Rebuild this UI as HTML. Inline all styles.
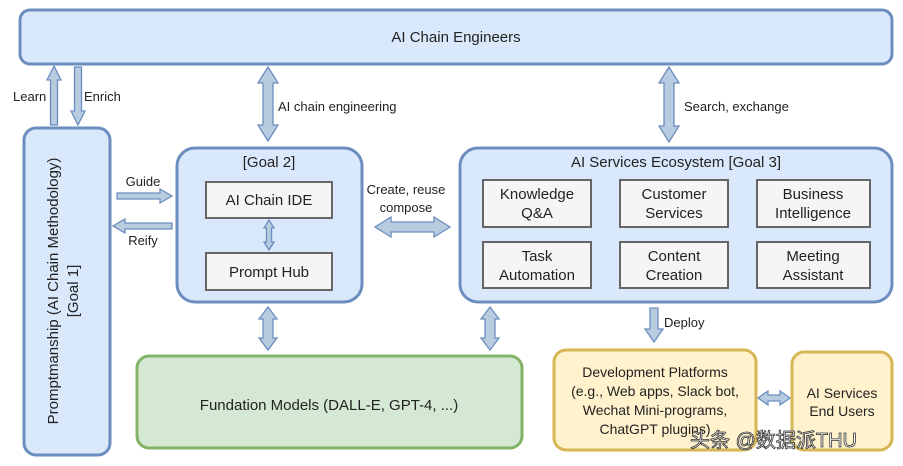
<!DOCTYPE html>
<html><head><meta charset="utf-8"><style>
body{margin:0;background:#fff;}
svg{display:block;font-family:"Liberation Sans","Noto Sans CJK SC",sans-serif;}
</style></head><body>
<svg id="s" width="903" height="466" viewBox="0 0 903 466" xmlns="http://www.w3.org/2000/svg">
<g stroke="#6c8ebf" stroke-width="3" fill="#dae8fc">
<rect x="20" y="10" width="872" height="54" rx="10"/>
<rect x="24" y="128" width="86" height="327" rx="12"/>
<rect x="177" y="148" width="185" height="154" rx="18"/>
<rect x="460" y="148" width="432" height="154" rx="18"/>
</g>
<rect x="137" y="356" width="385" height="92" rx="12" fill="#d5e8d4" stroke="#82b366" stroke-width="3"/>
<rect x="554" y="350" width="202" height="100" rx="12" fill="#fff2cc" stroke="#d6b656" stroke-width="3"/>
<rect x="792" y="352" width="100" height="98" rx="12" fill="#fff2cc" stroke="#d6b656" stroke-width="3"/>
<g fill="#f5f5f5" stroke="#666" stroke-width="2">
<rect x="206" y="182" width="126" height="36"/>
<rect x="206" y="253" width="126" height="37"/>
<rect x="483" y="180" width="108" height="47"/>
<rect x="620" y="180" width="108" height="47"/>
<rect x="757" y="180" width="113" height="47"/>
<rect x="483" y="242" width="108" height="46"/>
<rect x="620" y="242" width="108" height="46"/>
<rect x="757" y="242" width="113" height="46"/>
</g>
<g id="arrows" fill="#b8cce0" stroke="#6c8ebf" stroke-width="1.3"></g>
<g font-size="14" fill="#222" text-anchor="middle">
<text x="456" y="42" font-size="15">AI Chain Engineers</text>
<text x="269" y="167" font-size="15">[Goal 2]</text>
<text x="269" y="205" font-size="15">AI Chain IDE</text>
<text x="269" y="277" font-size="15">Prompt Hub</text>
<text x="676" y="167" font-size="15">AI Services Ecosystem [Goal 3]</text>
<text x="537" y="199" font-size="15">Knowledge</text><text x="537" y="218" font-size="15">Q&amp;A</text>
<text x="674" y="199" font-size="15">Customer</text><text x="674" y="218" font-size="15">Services</text>
<text x="813" y="199" font-size="15">Business</text><text x="813" y="218" font-size="15">Intelligence</text>
<text x="537" y="261" font-size="15">Task</text><text x="537" y="280" font-size="15">Automation</text>
<text x="674" y="261" font-size="15">Content</text><text x="674" y="280" font-size="15">Creation</text>
<text x="813" y="261" font-size="15">Meeting</text><text x="813" y="280" font-size="15">Assistant</text>
<text x="329" y="410" font-size="15">Fundation Models (DALL-E, GPT-4, ...)</text>
<text x="655" y="377">Development Platforms</text>
<text x="655" y="396">(e.g., Web apps, Slack bot,</text>
<text x="655" y="415">Wechat Mini-programs,</text>
<text x="655" y="434">ChatGPT plugins)</text>
<text x="842" y="398">AI Services</text>
<text x="842" y="416">End Users</text>
<text x="406" y="194" font-size="13">Create, reuse</text>
<text x="406" y="212" font-size="13">compose</text>
<text x="143" y="186" font-size="13">Guide</text>
<text x="143" y="245" font-size="13">Reify</text>
<g transform="translate(58,291) rotate(-90)"><text font-size="15">Promptmanship (AI Chain Methodology)</text></g>
<g transform="translate(78,291) rotate(-90)"><text font-size="15">[Goal 1]</text></g>
</g>
<g font-size="13" fill="#222">
<text x="13" y="101">Learn</text>
<text x="84" y="101">Enrich</text>
<text x="278" y="111">AI chain engineering</text>
<text x="684" y="111">Search, exchange</text>
<text x="664" y="327">Deploy</text>
</g>
<text x="690" y="447" font-size="20" fill="#fff" stroke="#333" stroke-width="0.8">头条 @数据派THU</text>
<script>
function arr(x1,y1,x2,y2,both,sw,hw,hl){
 sw=sw||4;hw=hw||9;hl=hl||12;
 var dx=x2-x1,dy=y2-y1,L=Math.hypot(dx,dy),ux=dx/L,uy=dy/L,px=-uy,py=ux;
 function P(t,o){return (x1+ux*t+px*o).toFixed(1)+","+(y1+uy*t+py*o).toFixed(1);}
 var pts=[];
 if(both){pts.push(P(0,0),P(hl,hw),P(hl,sw));}else{pts.push(P(0,sw));}
 pts.push(P(L-hl,sw),P(L-hl,hw),P(L,0),P(L-hl,-hw),P(L-hl,-sw));
 if(both){pts.push(P(hl,-sw),P(hl,-hw));}else{pts.push(P(0,-sw));}
 var g=document.getElementById('arrows');
 var p=document.createElementNS('http://www.w3.org/2000/svg','polygon');
 p.setAttribute('points',pts.join(' '));g.appendChild(p);
}
arr(54,125,54,66,false,3.5,7,14);
arr(78,67,78,125,false,3.5,7,14);
arr(268,67,268,141,true,5,10,16);
arr(669,67,669,142,true,5,10,16);
arr(117,196,172,196,false,3,7,12);
arr(172,226,113,226,false,3,7,12);
arr(269,220,269,250,true,2.5,5,8);
arr(375,227,450,227,true,5,10,16);
arr(268,307,268,350,true,5,9,12);
arr(490,307,490,350,true,5,9,12);
arr(654,308,654,342,false,4,9,13);
arr(758,398,790,398,true,3,7,10);
</script>
</svg>
</body></html>
